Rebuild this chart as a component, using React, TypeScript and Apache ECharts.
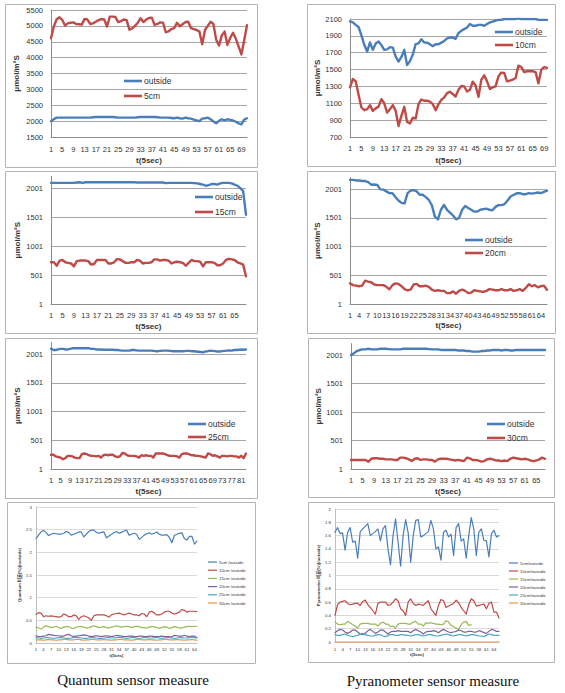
import { useEffect, useRef } from "react";
import * as echarts from "echarts";

const BLUE = "#4a7ebb";
const RED = "#be4b48";
const GREEN = "#98b954";
const PURPLE = "#7d60a0";
const AQUA = "#46aac5";
const ORANGE = "#f69240";

const FONT = "'Liberation Sans', Arial, 'Noto Sans CJK KR', sans-serif";

// ---------- Panel 1: outside vs 5cm (71 samples) ----------
const p1Outside = [
  2000, 2060, 2110, 2110, 2110, 2110, 2110, 2110, 2110, 2110,
  2110, 2110, 2110, 2110, 2110, 2120, 2130, 2130, 2130, 2130,
  2130, 2130, 2130, 2120, 2110, 2110, 2110, 2110, 2110, 2110,
  2110, 2120, 2130, 2130, 2130, 2130, 2130, 2130, 2120, 2110,
  2110, 2110, 2110, 2100, 2090, 2110, 2090, 2080, 2110, 2090,
  2080, 2050, 2020, 2000, 2080, 2090, 2110, 2060, 1990, 1930,
  2010, 2060, 2020, 2060, 2040, 2020, 1980, 1930, 1900, 2050,
  2090,
];
const p1Cm5 = [
  4610, 4980, 5200, 5270, 5190, 5010, 5080, 5100, 5110, 5060,
  5050, 5040, 5220, 5200, 5060, 5080, 5130, 5180, 5210, 5200,
  4980, 5290, 5290, 5280, 5120, 5150, 5200, 5180, 4880, 4920,
  5000, 5100, 5240, 5120, 5200, 5250, 5260, 5030, 5060, 5110,
  5100, 4800, 4830, 4900, 4930, 5100, 4990, 5050, 5120, 5130,
  4930, 4900, 4870, 4820, 4420, 4870, 5000, 5130, 5060, 4560,
  4380, 4700, 4820, 4400, 4620, 4780, 4600, 4350, 4100, 4550,
  5020,
];

// ---------- Panel 2: outside vs 10cm (70 samples) ----------
const p2Outside = [
  2072, 2060, 2030, 2005, 1905, 1794, 1714, 1822, 1734, 1810,
  1833, 1790, 1734, 1740, 1766, 1760, 1655, 1595, 1650, 1734,
  1555, 1600, 1680, 1802, 1810, 1861, 1820, 1820, 1800, 1778,
  1800, 1800, 1820, 1840, 1870, 1880, 1880, 1865, 1933, 1960,
  1980, 2000, 2040, 2020, 2020, 2030, 2030, 2020, 2040, 2060,
  2070, 2080, 2090, 2090, 2100, 2100, 2100, 2100, 2100, 2110,
  2100, 2100, 2100, 2100, 2100, 2100, 2090, 2090, 2090, 2090,
];
const p2Cm10 = [
  1290, 1388, 1360, 1200, 1050, 1018, 1030, 1078, 1010, 1040,
  1060, 1149, 1100, 990, 1030, 1078, 1010, 830, 950, 1058,
  879, 860, 930, 920, 1090, 1145, 1130, 1130, 1120, 1090,
  1018, 1090, 1140, 1170, 1220, 1237, 1210, 1180, 1260, 1305,
  1300, 1240, 1260, 1356, 1310, 1177, 1380, 1432, 1360, 1270,
  1290, 1300, 1420, 1464, 1460, 1360, 1370, 1380, 1400, 1547,
  1530, 1470, 1480, 1480, 1480, 1470, 1336, 1500, 1530, 1520,
];

// ---------- Panel 3: outside vs 15cm (69 samples) ----------
const p3Outside = [
  2090, 2090, 2090, 2090, 2090, 2090, 2090, 2090, 2090, 2095,
  2100, 2090, 2100, 2100, 2100, 2100, 2100, 2100, 2100, 2100,
  2100, 2100, 2100, 2100, 2100, 2100, 2100, 2100, 2100, 2100,
  2095, 2095, 2095, 2095, 2095, 2095, 2095, 2095, 2095, 2095,
  2085, 2090, 2090, 2090, 2090, 2090, 2090, 2090, 2090, 2090,
  2085, 2080, 2070, 2060, 2040, 2050, 2070, 2070, 2060, 2080,
  2090, 2090, 2090, 2080, 2060, 2040, 2000, 1950, 1540,
];
const p3Cm15 = [
  720, 720, 660, 750, 760, 720, 710, 700, 650, 740,
  750, 750, 750, 740, 680, 690, 760, 760, 760, 760,
  700, 700, 720, 775, 770, 740, 710, 710, 720, 720,
  760, 750, 700, 710, 710, 720, 770, 770, 750, 760,
  760, 750, 700, 720, 730, 720, 710, 660, 710, 760,
  740, 740, 730, 650, 720, 720, 720, 710, 670, 670,
  700, 760, 780, 770, 760, 720, 700, 680, 480,
];

// ---------- Panel 4: outside vs 20cm (66 samples) ----------
const p4Outside = [
  2160, 2160, 2150, 2150, 2140, 2140, 2120, 2076, 2080, 2070,
  1995, 1990, 1960, 1930, 1926, 1860, 1800, 1760, 1752, 1930,
  1972, 1980, 1960, 1900, 1900, 1860, 1810, 1720, 1520, 1473,
  1640, 1723, 1640, 1590, 1540, 1473, 1500, 1640, 1705, 1670,
  1640, 1607, 1610, 1640, 1650, 1660, 1640, 1630, 1690, 1720,
  1720, 1740, 1800, 1870, 1900, 1926, 1930, 1910, 1910, 1930,
  1920, 1930, 1940, 1930, 1950, 1972,
];
const p4Cm20 = [
  360, 330, 320, 310, 320, 407, 390, 380, 340, 330,
  330, 330, 300, 256, 330, 360, 350, 310, 260, 240,
  250, 340, 350, 310, 310, 320, 300, 250, 230, 240,
  230, 230, 190, 190, 220, 180, 230, 250, 230, 190,
  200, 240, 230, 220, 210, 230, 260, 250, 240, 240,
  260, 240, 240, 260, 230, 240, 260, 230, 280, 343,
  310, 330, 290, 310, 320, 250,
];

// ---------- Panel 5: outside vs 25cm (83 samples) ----------
const p5Outside = [
  2094, 2070, 2070, 2080, 2090, 2090, 2080, 2080, 2090, 2100,
  2100, 2100, 2100, 2100, 2100, 2100, 2100, 2090, 2090, 2080,
  2080, 2080, 2075, 2075, 2075, 2075, 2075, 2070, 2070, 2065,
  2060, 2060, 2060, 2060, 2070, 2070, 2065, 2060, 2060, 2060,
  2060, 2060, 2060, 2055, 2050, 2050, 2055, 2060, 2060, 2060,
  2055, 2050, 2050, 2050, 2050, 2050, 2050, 2055, 2055, 2050,
  2050, 2045, 2040, 2035, 2030, 2045, 2050, 2060, 2055, 2050,
  2045, 2045, 2050, 2055, 2060, 2065, 2060, 2070, 2070, 2075,
  2080, 2075, 2080,
];
const p5Cm25 = [
  250, 250, 220, 210, 200, 170, 190, 230, 230, 220,
  200, 190, 190, 260, 270, 260, 240, 230, 230, 220,
  230, 200, 240, 250, 240, 250, 250, 220, 210, 220,
  280, 270, 240, 230, 230, 230, 220, 200, 240, 230,
  240, 230, 230, 200, 270, 270, 270, 270, 260, 240,
  230, 230, 230, 220, 200, 260, 270, 270, 260, 240,
  240, 230, 230, 220, 210, 200, 270, 260, 230, 240,
  220, 200, 230, 230, 220, 230, 230, 220, 220, 200,
  230, 190, 270,
];

// ---------- Panel 6: outside vs 30cm (68 samples) ----------
const p6Outside = [
  2000, 2030, 2070, 2088, 2100, 2100, 2110, 2100, 2100, 2100,
  2110, 2110, 2110, 2105, 2100, 2100, 2100, 2100, 2110, 2110,
  2110, 2110, 2110, 2110, 2110, 2110, 2110, 2105, 2100, 2100,
  2100, 2090, 2090, 2090, 2090, 2090, 2090, 2080, 2080, 2080,
  2070, 2070, 2060, 2060, 2060, 2070, 2070, 2080, 2080, 2090,
  2090, 2090, 2080, 2090, 2090, 2080, 2080, 2090, 2090, 2090,
  2090, 2090, 2090, 2090, 2090, 2090, 2090, 2090,
];
const p6Cm30 = [
  160, 160, 160, 160, 160, 160, 130, 180, 190, 190,
  180, 180, 170, 170, 170, 160, 160, 200, 200, 190,
  170, 140, 180, 190, 160, 170, 170, 160, 160, 130,
  170, 180, 180, 180, 170, 160, 150, 160, 150, 140,
  200, 190, 160, 160, 150, 130, 140, 170, 180, 170,
  150, 150, 140, 150, 140, 180, 200, 190, 180, 170,
  180, 170, 150, 140, 150, 170, 200, 180,
];

// ---------- Panel 7: Quantum ratio (65 samples) ----------
const q5 = [
  2.30, 2.38, 2.45, 2.48, 2.44, 2.37, 2.40, 2.42, 2.41, 2.40,
  2.40, 2.42, 2.46, 2.44, 2.38, 2.40, 2.42, 2.45, 2.45, 2.34,
  2.40, 2.46, 2.49, 2.49, 2.44, 2.42, 2.44, 2.45, 2.32, 2.36,
  2.40, 2.43, 2.46, 2.42, 2.44, 2.47, 2.49, 2.38, 2.40, 2.42,
  2.40, 2.29, 2.33, 2.38, 2.41, 2.43, 2.40, 2.42, 2.45, 2.40,
  2.38, 2.38, 2.39, 2.33, 2.21, 2.37, 2.40, 2.42, 2.43, 2.30,
  2.27, 2.35, 2.35, 2.18, 2.25,
];
const q10 = [
  0.63, 0.67, 0.66, 0.58, 0.60, 0.59, 0.60, 0.59, 0.58, 0.57,
  0.58, 0.64, 0.62, 0.58, 0.58, 0.62, 0.60, 0.52, 0.58, 0.60,
  0.58, 0.55, 0.50, 0.60, 0.62, 0.62, 0.62, 0.62, 0.60, 0.57,
  0.62, 0.64, 0.65, 0.66, 0.64, 0.62, 0.64, 0.66, 0.64, 0.62,
  0.62, 0.60, 0.65, 0.64, 0.58, 0.68, 0.70, 0.66, 0.62, 0.62,
  0.64, 0.68, 0.70, 0.70, 0.66, 0.64, 0.66, 0.68, 0.74, 0.72,
  0.68, 0.70, 0.70, 0.70, 0.69,
];
const q15 = [
  0.35, 0.33, 0.31, 0.35, 0.38, 0.36, 0.34, 0.35, 0.37, 0.34,
  0.32, 0.35, 0.36, 0.36, 0.33, 0.32, 0.35, 0.36, 0.36, 0.35,
  0.33, 0.34, 0.36, 0.38, 0.36, 0.34, 0.35, 0.36, 0.34, 0.33,
  0.35, 0.36, 0.38, 0.36, 0.35, 0.36, 0.37, 0.36, 0.34, 0.36,
  0.37, 0.36, 0.34, 0.34, 0.33, 0.35, 0.36, 0.36, 0.34, 0.33,
  0.34, 0.36, 0.35, 0.32, 0.34, 0.36, 0.35, 0.33, 0.33, 0.35,
  0.36, 0.37, 0.36, 0.37, 0.37,
];
const q20 = [
  0.16, 0.14, 0.14, 0.15, 0.16, 0.19, 0.18, 0.17, 0.16, 0.16,
  0.15, 0.15, 0.18, 0.19, 0.16, 0.14, 0.15, 0.16, 0.17, 0.18,
  0.17, 0.15, 0.14, 0.15, 0.16, 0.15, 0.14, 0.15, 0.16, 0.15,
  0.14, 0.15, 0.17, 0.16, 0.15, 0.14, 0.14, 0.15, 0.15, 0.14,
  0.14, 0.15, 0.15, 0.14, 0.14, 0.15, 0.15, 0.14, 0.14, 0.14,
  0.15, 0.14, 0.14, 0.14, 0.13, 0.17, 0.16, 0.15, 0.15, 0.17,
  0.15, 0.14, 0.15, 0.15, 0.12,
];
const q25 = [
  0.12, 0.11, 0.10, 0.11, 0.12, 0.12, 0.11, 0.10, 0.11, 0.12,
  0.12, 0.11, 0.10, 0.10, 0.11, 0.12, 0.13, 0.12, 0.11, 0.10,
  0.10, 0.11, 0.12, 0.12, 0.11, 0.10, 0.10, 0.11, 0.12, 0.12,
  0.11, 0.11, 0.12, 0.13, 0.12, 0.11, 0.10, 0.11, 0.12, 0.12,
  0.11, 0.10, 0.11, 0.12, 0.12, 0.11, 0.11, 0.12, 0.12, 0.11,
  0.10, 0.11, 0.12, 0.12, 0.11, 0.10, 0.11, 0.12, 0.12, 0.11,
  0.11, 0.12, 0.13, 0.12, 0.11,
];
const q30 = [
  0.07, 0.07, 0.07, 0.06, 0.07, 0.08, 0.07, 0.07, 0.06, 0.07,
  0.07, 0.08, 0.08, 0.07, 0.07, 0.07, 0.08, 0.08, 0.07, 0.06,
  0.07, 0.07, 0.08, 0.08, 0.07, 0.07, 0.07, 0.08, 0.07, 0.07,
  0.06, 0.07, 0.07, 0.08, 0.08, 0.07, 0.07, 0.07, 0.06, 0.07,
  0.08, 0.08, 0.07, 0.07, 0.07, 0.08, 0.07, 0.07, 0.06, 0.07,
  0.07, 0.08, 0.08, 0.07, 0.07, 0.07, 0.08, 0.07, 0.07, 0.06,
  0.07, 0.07, 0.08, 0.07, 0.06,
];

// ---------- Panel 8: Pyranometer ratio (66 samples) ----------
const r5 = [
  1.65, 1.72, 1.63, 1.64, 1.38, 1.65, 1.72, 1.50, 1.52, 1.26,
  1.66, 1.70, 1.74, 1.78, 1.60, 1.63, 1.66, 1.70, 1.52, 1.70,
  1.75, 1.40, 1.16, 1.60, 1.85, 1.50, 1.14, 1.60, 1.84, 1.64,
  1.20, 1.60, 1.83, 1.84, 1.58, 1.60, 1.63, 1.66, 1.83, 1.70,
  1.40, 1.43, 1.23, 1.65, 1.68, 1.58, 1.62, 1.30, 1.72, 1.78,
  1.52, 1.55, 1.26, 1.60, 1.87, 1.70, 1.30, 1.65, 1.70, 1.53,
  1.52, 1.28, 1.63, 1.68, 1.58, 1.60,
];
const r10 = [
  0.40, 0.56, 0.60, 0.61, 0.62, 0.58, 0.56, 0.57, 0.58, 0.58,
  0.55, 0.61, 0.63, 0.56, 0.52, 0.47, 0.42, 0.58, 0.60, 0.60,
  0.60, 0.55, 0.56, 0.60, 0.65, 0.62, 0.50, 0.47, 0.40, 0.60,
  0.65, 0.58, 0.55, 0.57, 0.56, 0.55, 0.59, 0.62, 0.50, 0.45,
  0.40, 0.55, 0.64, 0.62, 0.52, 0.54, 0.56, 0.58, 0.63, 0.59,
  0.52, 0.47, 0.42, 0.56, 0.65, 0.62, 0.54, 0.55, 0.56, 0.57,
  0.50, 0.58, 0.60, 0.45, 0.45, 0.36,
];
const r15 = [
  0.30, 0.27, 0.26, 0.27, 0.27, 0.31, 0.29, 0.26, 0.24, 0.21,
  0.27, 0.28, 0.28, 0.28, 0.27, 0.27, 0.27, 0.24, 0.28, 0.30,
  0.27, 0.27, 0.23, 0.24, 0.21, 0.27, 0.28, 0.28, 0.28, 0.27,
  0.27, 0.30, 0.31, 0.27, 0.27, 0.24, 0.29, 0.28, 0.29, 0.28,
  0.27, 0.27, 0.26, 0.27, 0.32, 0.30, 0.25, 0.23, 0.21, 0.19,
  0.26, 0.30, 0.31, 0.25, 0.26,
];
const r20 = [
  0.14, 0.17, 0.19, 0.18, 0.15, 0.13, 0.15, 0.18, 0.18, 0.15,
  0.12, 0.11, 0.13, 0.17, 0.19, 0.16, 0.13, 0.15, 0.18, 0.18,
  0.15, 0.12, 0.15, 0.16, 0.16, 0.17, 0.16, 0.16, 0.16, 0.16,
  0.14, 0.17, 0.19, 0.17, 0.15, 0.12, 0.15, 0.16, 0.16, 0.17,
  0.16, 0.14, 0.17, 0.19, 0.17, 0.15, 0.14, 0.15, 0.16, 0.18,
  0.17, 0.15, 0.15, 0.16, 0.16, 0.15, 0.15, 0.17, 0.16, 0.14,
  0.13, 0.16, 0.19, 0.18, 0.16, 0.16,
];
const r25 = [
  0.11, 0.10, 0.10, 0.11, 0.12, 0.10, 0.09, 0.08, 0.09, 0.10,
  0.12, 0.13, 0.11, 0.10, 0.09, 0.09, 0.10, 0.11, 0.11, 0.09,
  0.08, 0.10, 0.11, 0.11, 0.10, 0.10, 0.11, 0.11, 0.10, 0.10,
  0.09, 0.10, 0.11, 0.11, 0.10, 0.09, 0.10, 0.11, 0.11, 0.10,
  0.09, 0.09, 0.10, 0.11, 0.12, 0.11, 0.10, 0.09, 0.10, 0.11,
  0.11, 0.10, 0.09, 0.10, 0.11, 0.11, 0.10, 0.09, 0.09, 0.08,
  0.10, 0.12, 0.11, 0.10, 0.10, 0.10,
];
const r30 = [
  0, 0, 0, 0, 0, 0, 0, 0, 0, 0,
  0, 0, 0, 0, 0, 0, 0, 0, 0, 0,
  0, 0, 0, 0, 0, 0, 0, 0, 0, 0,
  0, 0, 0, 0, 0, 0, 0, 0, 0, 0,
  0, 0, 0, 0, 0, 0, 0, 0, 0, 0,
  0, 0, 0, 0, 0, 0, 0, 0, 0, 0,
  0, 0, 0, 0, 0, 0,
];

const Y_TITLE = "μmol/m²S";
const X_TITLE = "t(5sec)";
const CAPTION_Q = "Quantum sensor measure";
const CAPTION_P = "Pyranometer sensor measure";

interface SeriesDef { name: string; data: number[]; color: string }
interface PanelDef {
  box: [number, number, number, number];
  left: number; top: number; width: number; height: number;
  n: number;
  yMin: number; yMax: number; yStep: number; hideMax: boolean;
  every: (i: number) => boolean;
  series: SeriesDef[];
  legend: { left: number; top: number; gap: number };
  yName: string;
  yNameGap: number; xNameGap: number; xLabelMargin: number; yLabelMargin: number;
  small: boolean;
}

const ev4 = (i: number) => i % 4 === 0;
const ev3 = (i: number) => i % 3 === 0;

const panels: PanelDef[] = [
  {
    box: [5, 4, 252, 163], left: 51, top: 10, width: 196, height: 127, n: p1Cm5.length,
    yMin: 1500, yMax: 5500, yStep: 500, hideMax: false, every: ev4,
    series: [{ name: "outside", data: p1Outside, color: BLUE }, { name: "5cm", data: p1Cm5, color: RED }],
    legend: { left: 124, top: 76, gap: 5 }, yName: Y_TITLE, yNameGap: 31, xNameGap: 19, xLabelMargin: 9, yLabelMargin: 8, small: false,
  },
  {
    box: [307, 4, 248, 162], left: 350, top: 19, width: 197, height: 118, n: p2Cm10.length,
    yMin: 700, yMax: 2100, yStep: 200, hideMax: false, every: ev4,
    series: [{ name: "outside", data: p2Outside, color: BLUE }, { name: "10cm", data: p2Cm10, color: RED }],
    legend: { left: 495, top: 27, gap: 3 }, yName: Y_TITLE, yNameGap: 26, xNameGap: 19, xLabelMargin: 8, yLabelMargin: 8, small: false,
  },
  {
    box: [5, 171, 252, 162], left: 51, top: 176.4, width: 195, height: 127.6, n: p3Cm15.length,
    yMin: 1, yMax: 2201, yStep: 500, hideMax: true, every: (i) => i % 4 === 0 && i <= 64,
    series: [{ name: "outside", data: p3Outside, color: BLUE }, { name: "15cm", data: p3Cm15, color: RED }],
    legend: { left: 195, top: 192, gap: 5 }, yName: Y_TITLE, yNameGap: 30, xNameGap: 18, xLabelMargin: 8, yLabelMargin: 8, small: false,
  },
  {
    box: [307, 171, 248, 162], left: 350, top: 177.5, width: 197, height: 126.5, n: p4Cm20.length,
    yMin: 1, yMax: 2201, yStep: 500, hideMax: true, every: ev3,
    series: [{ name: "outside", data: p4Outside, color: BLUE }, { name: "20cm", data: p4Cm20, color: RED }],
    legend: { left: 465, top: 235, gap: 3 }, yName: Y_TITLE, yNameGap: 27, xNameGap: 17, xLabelMargin: 8, yLabelMargin: 8, small: false,
  },
  {
    box: [5, 338, 252, 160], left: 51, top: 342.5, width: 195, height: 126.5, n: p5Cm25.length,
    yMin: 1, yMax: 2201, yStep: 500, hideMax: true, every: ev4,
    series: [{ name: "outside", data: p5Outside, color: BLUE }, { name: "25cm", data: p5Cm25, color: RED }],
    legend: { left: 188, top: 419, gap: 3 }, yName: Y_TITLE, yNameGap: 30, xNameGap: 18, xLabelMargin: 8, yLabelMargin: 8, small: false,
  },
  {
    box: [308, 338, 246, 159], left: 351, top: 343.6, width: 194, height: 125.4, n: p6Cm30.length,
    yMin: 1, yMax: 2201, yStep: 500, hideMax: true, every: ev4,
    series: [{ name: "outside", data: p6Outside, color: BLUE }, { name: "30cm", data: p6Cm30, color: RED }],
    legend: { left: 487, top: 419, gap: 4 }, yName: Y_TITLE, yNameGap: 28, xNameGap: 18, xLabelMargin: 8, yLabelMargin: 8, small: false,
  },
  {
    box: [7, 502, 248, 161], left: 36, top: 507, width: 161, height: 136, n: q5.length,
    yMin: 0, yMax: 3, yStep: 0.5, hideMax: false, every: ev3,
    series: [
      { name: "5cm /outside", data: q5, color: BLUE },
      { name: "10cm /outside", data: q10, color: RED },
      { name: "15cm /outside", data: q15, color: GREEN },
      { name: "20cm /outside", data: q20, color: PURPLE },
      { name: "25cm /outside", data: q25, color: AQUA },
      { name: "30cm /outside", data: q30, color: ORANGE },
    ],
    legend: { left: 208, top: 559, gap: 2.2 }, yName: "Quantum 비율(%)(/outside)", yNameGap: 13, xNameGap: 10, xLabelMargin: 4, yLabelMargin: 4, small: true,
  },
  {
    box: [308, 502, 246, 160], left: 335, top: 509, width: 164, height: 133, n: r5.length,
    yMin: 0, yMax: 2, yStep: 0.2, hideMax: false, every: ev3,
    series: [
      { name: "5cm/outside", data: r5, color: BLUE },
      { name: "10cm/outside", data: r10, color: RED },
      { name: "15cm/outside", data: r15, color: GREEN },
      { name: "20cm/outside", data: r20, color: PURPLE },
      { name: "25cm/outside", data: r25, color: AQUA },
      { name: "30cm/outside", data: r30, color: ORANGE },
    ],
    legend: { left: 509, top: 560, gap: 2 }, yName: "Pyranometer 비율(%)(/outside)", yNameGap: 11, xNameGap: 10, xLabelMargin: 5, yLabelMargin: 4, small: true,
  },
];

function fmtNum(v: number) {
  return String(Math.round(v * 1000) / 1000);
}

function buildOption() {
  const grid: any[] = [];
  const xAxis: any[] = [];
  const yAxis: any[] = [];
  const series: any[] = [];
  const legend: any[] = [];
  const graphic: any[] = [];

  panels.forEach((p, k) => {
    const fs = p.small ? 4.3 : 7.5;
    const titleFs = p.small ? 4.3 : 8;
    const gridColor = p.small ? "#d9d9d9" : "#a6a6a6";
    const axisColor = p.small ? "#bfbfbf" : "#8c8c8c";
    const textColor = "#333333";

    graphic.push({
      type: "rect",
      z: 0,
      shape: { x: p.box[0] + 0.5, y: p.box[1] + 0.5, width: p.box[2], height: p.box[3] },
      style: { fill: "none", stroke: "#b4b4b4", lineWidth: 1 },
    });

    grid.push({ left: p.left, top: p.top, width: p.width, height: p.height, containLabel: false, outerBoundsMode: "none" });

    xAxis.push({
      type: "category",
      gridIndex: k,
      boundaryGap: false,
      data: Array.from({ length: p.n }, (_, i) => String(i + 1)),
      axisLine: { show: true, lineStyle: { color: axisColor, width: 1 } },
      axisTick: { show: false },
      splitLine: { show: false },
      axisLabel: {
        interval: (i: number) => p.every(i),
        margin: p.xLabelMargin,
        fontSize: fs,
        color: textColor,
        fontFamily: FONT,
      },
      name: X_TITLE,
      nameLocation: "middle",
      nameGap: p.xNameGap,
      nameTextStyle: { fontSize: titleFs, fontWeight: "bold", color: textColor, fontFamily: FONT },
    });

    yAxis.push({
      type: "value",
      gridIndex: k,
      min: p.yMin,
      max: p.yMax,
      interval: p.yStep,
      axisLine: { show: true, lineStyle: { color: axisColor, width: 1 } },
      axisTick: { show: false },
      splitLine: { show: true, showMaxLine: !p.hideMax, lineStyle: { color: gridColor, width: 1 } },
      axisLabel: {
        showMaxLabel: !p.hideMax,
        margin: p.yLabelMargin,
        fontSize: fs,
        color: textColor,
        fontFamily: FONT,
        formatter: (v: number) => fmtNum(v),
      },
      name: p.yName,
      nameLocation: "middle",
      nameGap: p.yNameGap,
      nameTextStyle: { fontSize: titleFs, fontWeight: "bold", color: textColor, fontFamily: FONT },
    });

    p.series.forEach((s) => {
      series.push({
        type: "line",
        name: s.name,
        xAxisIndex: k,
        yAxisIndex: k,
        data: s.data,
        symbol: "none",
        smooth: false,
        lineStyle: { color: s.color, width: p.small ? 1.2 : 2.4, cap: "round", join: "round" },
        itemStyle: { color: s.color },
      });
    });

    const lh = p.small ? 6 : 10;
    legend.push({
      orient: "vertical",
      left: p.legend.left,
      top: p.legend.top,
      padding: 0,
      itemGap: p.legend.gap,
      itemWidth: p.small ? 9 : 18,
      itemHeight: p.small ? 1.2 : 2.6,
      icon: "rect",
      selectedMode: false,
      data: p.series.map((s) => s.name),
      textStyle: { fontSize: p.small ? 4.3 : 8.5, lineHeight: lh, color: textColor, fontFamily: FONT, padding: [0, 0, 0, -3] },
    });
  });

  graphic.push({
    type: "text",
    x: 133,
    y: 680,
    style: { text: CAPTION_Q, fontSize: 15, fontFamily: "'Liberation Serif', serif", fill: "#111111", align: "center", verticalAlign: "middle" },
  });
  graphic.push({
    type: "text",
    x: 433,
    y: 681,
    style: { text: CAPTION_P, fontSize: 15, fontFamily: "'Liberation Serif', serif", fill: "#111111", align: "center", verticalAlign: "middle" },
  });

  return {
    animation: false,
    backgroundColor: "#ffffff",
    grid,
    xAxis,
    yAxis,
    series,
    legend,
    graphic,
  };
}

export default function App() {
  const ref = useRef<HTMLDivElement>(null);
  useEffect(() => {
    if (!ref.current) return;
    const chart = echarts.init(ref.current, undefined, { renderer: "svg" });
    chart.setOption(buildOption() as any);
    return () => chart.dispose();
  }, []);
  return (
    <div
      ref={ref}
      style={{ position: "fixed", left: 0, top: 0, width: 565, height: 693, background: "#ffffff" }}
    />
  );
}
